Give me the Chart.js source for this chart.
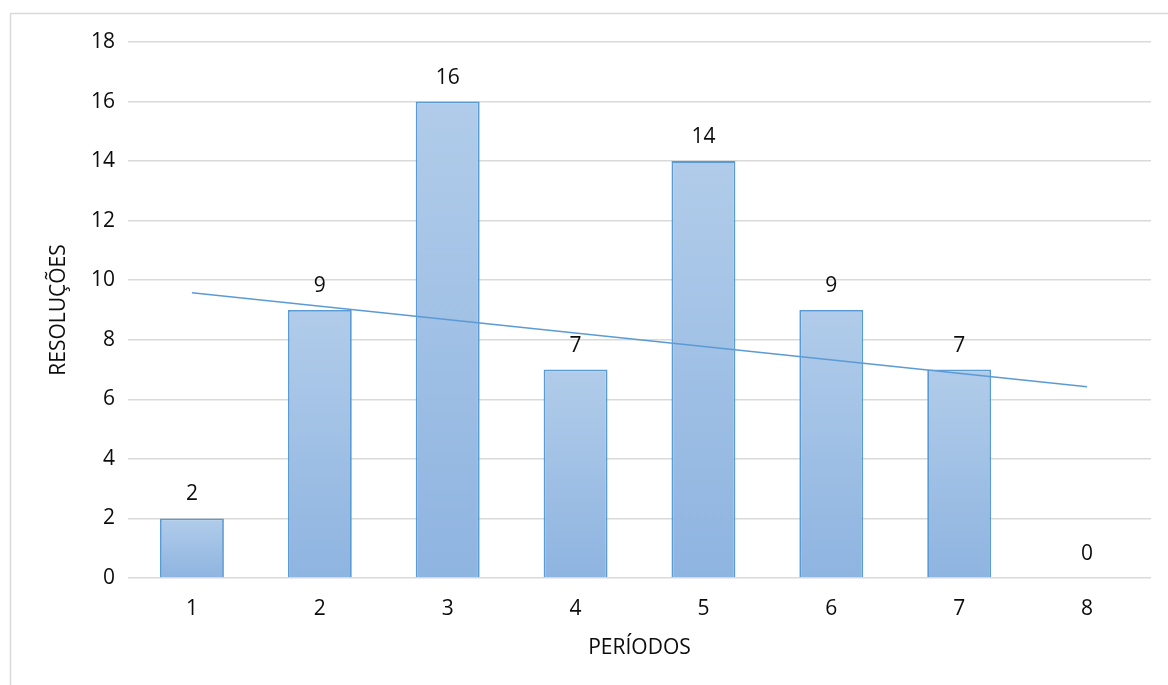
<!DOCTYPE html>
<html>
<head>
<meta charset="utf-8">
<script src="https://cdn.jsdelivr.net/npm/chart.js@4/dist/chart.umd.min.js"></script>
<style>
  html, body { margin: 0; padding: 0; background: #ffffff; }
  #wrap { width: 1168px; height: 685px; position: relative; }
</style>
</head>
<body>
<div id="wrap"><canvas id="grafico" width="1168" height="685"></canvas></div>
<script>
// Resoluções por período
const periodos = ['1', '2', '3', '4', '5', '6', '7', '8'];
const resolucoes = [2, 9, 16, 7, 14, 9, 7, 0];
// Linha de tendência linear (extremos nos períodos 1 e 8)
const tendencia = [9.58, null, null, null, null, null, null, 6.42];
const yMin = 0;
const yMax = 18;
const yPasso = 2;

const FONTE = "'Open Sans', 'Noto Sans', sans-serif";
const AZUL = '#5B9BD5';
const TEXTO = '#0d0d0d';

// Moldura cinza clara em volta da área do gráfico
const moldura = {
  id: 'moldura',
  beforeDraw(chart) {
    const c = chart.ctx;
    c.save();
    c.strokeStyle = '#D9D9D9';
    c.lineWidth = 1.5;
    c.beginPath();
    c.moveTo(10.5, 686);
    c.lineTo(10.5, 13.5);
    c.lineTo(1169, 13.5);
    c.stroke();
    c.restore();
  }
};

// Rótulos de valor acima de cada coluna
const rotulos = {
  id: 'rotulos',
  afterDatasetsDraw(chart) {
    const meta = chart.getDatasetMeta(0);
    const c = chart.ctx;
    c.save();
    c.font = '21px ' + FONTE;
    c.fillStyle = TEXTO;
    c.textAlign = 'center';
    c.textBaseline = 'middle';
    meta.data.forEach((el, i) => {
      c.fillText(String(resolucoes[i]), el.x, el.y - 24);
    });
    c.restore();
  }
};

function preenchimento(ctx) {
  const chart = ctx.chart;
  const area = chart.chartArea;
  const y = chart.scales && chart.scales.y;
  if (!area || !y || ctx.type !== 'data') return '#A4C2E6';
  const topo = y.getPixelForValue(ctx.raw);
  const base = y.getPixelForValue(0);
  if (base - topo < 1) return 'rgba(0,0,0,0)';
  const g = chart.ctx.createLinearGradient(0, topo, 0, base);
  g.addColorStop(0, '#B1CCEA');
  g.addColorStop(1, '#8EB4E0');
  return g;
}

new Chart(document.getElementById('grafico'), {
  type: 'bar',
  data: {
    labels: periodos,
    datasets: [
      {
        type: 'bar',
        data: resolucoes,
        backgroundColor: preenchimento,
        borderColor: ctx => (ctx.raw === 0 ? 'rgba(0,0,0,0)' : AZUL),
        borderWidth: 1.8,
        barPercentage: 0.5,
        categoryPercentage: 1.0,
        order: 1
      },
      {
        type: 'line',
        data: tendencia,
        spanGaps: true,
        borderColor: AZUL,
        borderWidth: 1.6,
        pointRadius: 0,
        fill: false,
        tension: 0,
        order: 0
      }
    ]
  },
  options: {
    responsive: false,
    animation: false,
    devicePixelRatio: 1,
    layout: { padding: { top: 42, right: 17, left: 0, bottom: 0 } },
    plugins: {
      legend: { display: false },
      tooltip: { enabled: false }
    },
    scales: {
      x: {
        offset: true,
        grid: { display: false, drawTicks: false },
        border: { display: false },
        ticks: { color: TEXTO, font: { family: FONTE, size: 21 }, padding: 18 },
        title: {
          display: true,
          text: 'PERÍODOS',
          color: TEXTO,
          font: { family: FONTE, size: 21 },
          padding: { top: 0, bottom: 24 }
        },
        afterFit(scale) { scale.height = 107; }
      },
      y: {
        min: yMin,
        max: yMax,
        grid: { color: '#D9D9D9', lineWidth: 1.5, drawTicks: false },
        border: { display: false },
        ticks: {
          stepSize: yPasso,
          color: TEXTO,
          font: { family: FONTE, size: 21 },
          padding: 13
        },
        title: {
          display: true,
          text: 'RESOLUÇÕES',
          color: TEXTO,
          font: { family: FONTE, size: 21 },
          padding: { top: 46, bottom: 0 }
        },
        afterFit(scale) { scale.width = 128; }
      }
    }
  },
  plugins: [moldura, rotulos]
});
</script>
</body>
</html>
